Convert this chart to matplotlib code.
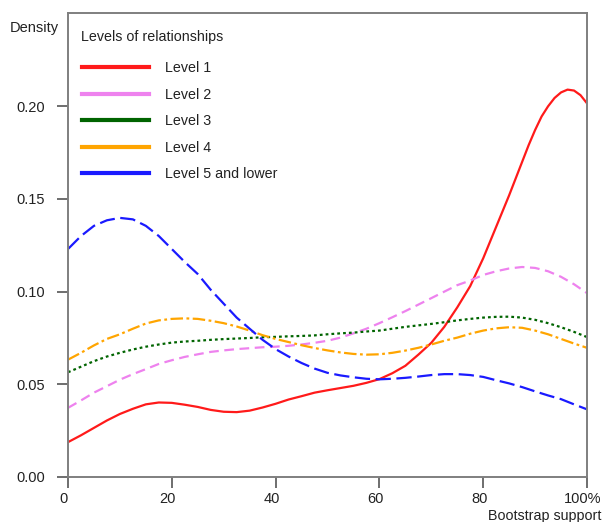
import matplotlib
matplotlib.use('Agg')
import matplotlib.pyplot as plt
import matplotlib.transforms as mtransforms
from matplotlib.lines import Line2D

plt.rcParams['font.family'] = ['Liberation Sans', 'DejaVu Sans']
plt.rcParams['lines.scale_dashes'] = False

# bootstrap support (%) grid
support = [0, 2.5, 5, 7.5, 10, 12.5, 15, 17.5, 20, 22.5, 25, 27.5, 30, 32.5, 35, 37.5,
           40, 42.5, 45, 47.5, 50, 52.5, 55, 57.5, 60, 62.5, 65, 67.5, 70, 72.5, 75, 77.5,
           80, 82.5, 85, 87.5, 90, 92.5, 95, 97.5, 100]
# level 1 has a sharp peak, read on a finer grid at the top end
support1 = [0, 2.5, 5, 7.5, 10, 12.5, 15, 17.5, 20, 22.5, 25, 27.5, 30, 32.5, 35, 37.5,
            40, 42.5, 45, 47.5, 50, 52.5, 55, 57.5, 60, 62.5, 65, 67.5, 70, 72.5, 75, 77.5,
            80, 82.5, 85, 86.25, 87.5, 88.75, 90, 91.25, 92.5, 93.75, 95, 96.25, 97.5,
            98.75, 100]

level1 = [0.0188, 0.0225, 0.0265, 0.0305, 0.0340, 0.0368, 0.0392, 0.0402, 0.0400, 0.0390,
          0.0378, 0.0362, 0.0352, 0.0350, 0.0358, 0.0375, 0.0395, 0.0418, 0.0436, 0.0455,
          0.0468, 0.0480, 0.0492, 0.0508, 0.0528, 0.0560, 0.0600, 0.0660, 0.0724, 0.0810,
          0.0915, 0.1030, 0.1180, 0.1350, 0.1520, 0.1610, 0.1700, 0.1790, 0.1872, 0.1945,
          0.2000, 0.2045, 0.2075, 0.2090, 0.2085, 0.2060, 0.2016]
level2 = [0.0373, 0.0413, 0.0455, 0.0490, 0.0525, 0.0555, 0.0582, 0.0610, 0.0630, 0.0648,
          0.0662, 0.0675, 0.0683, 0.0690, 0.0695, 0.0700, 0.0703, 0.0708, 0.0715, 0.0724,
          0.0735, 0.0752, 0.0775, 0.0800, 0.0830, 0.0862, 0.0895, 0.0930, 0.0965, 0.1000,
          0.1035, 0.1060, 0.1090, 0.1110, 0.1125, 0.1133, 0.1128, 0.1110, 0.1080, 0.1040,
          0.0992]
level3 = [0.0565, 0.0595, 0.0625, 0.0650, 0.0670, 0.0688, 0.0703, 0.0715, 0.0725, 0.0731,
          0.0735, 0.0740, 0.0744, 0.0747, 0.0750, 0.0754, 0.0756, 0.0759, 0.0761, 0.0764,
          0.0770, 0.0775, 0.0779, 0.0785, 0.0790, 0.0800, 0.0810, 0.0818, 0.0826, 0.0835,
          0.0845, 0.0853, 0.0860, 0.0864, 0.0865, 0.0860, 0.0848, 0.0830, 0.0808, 0.0783,
          0.0755]
level4 = [0.0633, 0.0670, 0.0710, 0.0745, 0.0770, 0.0800, 0.0828, 0.0845, 0.0853, 0.0856,
          0.0853, 0.0843, 0.0830, 0.0812, 0.0790, 0.0765, 0.0745, 0.0728, 0.0711, 0.0696,
          0.0683, 0.0672, 0.0664, 0.0660, 0.0662, 0.0670, 0.0682, 0.0697, 0.0715, 0.0735,
          0.0752, 0.0773, 0.0790, 0.0802, 0.0808, 0.0805, 0.0790, 0.0770, 0.0745, 0.0720,
          0.0697]
level5 = [0.1230, 0.1300, 0.1355, 0.1385, 0.1398, 0.1390, 0.1355, 0.1300, 0.1230, 0.1160,
          0.1095, 0.1010, 0.0935, 0.0860, 0.0800, 0.0740, 0.0690, 0.0650, 0.0615, 0.0585,
          0.0562, 0.0548, 0.0538, 0.0530, 0.0527, 0.0530, 0.0535, 0.0542, 0.0550, 0.0555,
          0.0555, 0.0550, 0.0540, 0.0522, 0.0505, 0.0485, 0.0462, 0.0440, 0.0420, 0.0392,
          0.0365]

labels = ['Level 1', 'Level 2', 'Level 3', 'Level 4', 'Level 5 and lower']
colors = ['#ff1a1a', '#ee82ee', '#006400', '#ffa500', '#1a1aff']
dashes = [None, (7, 4), (2, 2.2), (9, 2.5, 2, 2.5), (11, 4)]
xticks = [0, 20, 40, 60, 80, 100]
xticklabels = ['0', '20', '40', '60', '80', '100%']
yticks = [0.00, 0.05, 0.10, 0.15, 0.20]

fig = plt.figure(figsize=(6.03, 5.22), dpi=100)
ax = fig.add_axes([68 / 603, 45 / 522, 519 / 603, 464.3 / 522])

xs = [support1, support, support, support, support]
series = [level1, level2, level3, level4, level5]
for x, vals, c, d in zip(xs, series, colors, dashes):
    line, = ax.plot(x, vals, color=c, lw=1.6)
    if d is not None:
        line.set_dashes(d)

ax.set_xlim(0, 100)
ax.set_ylim(0, 0.2505)
ax.set_xticks(xticks)
ax.set_xticklabels(xticklabels)
ax.set_yticks(yticks)
ax.set_yticklabels([f'{v:.2f}' for v in yticks])
for s in ax.spines.values():
    s.set_color('#7f7f7f')
    s.set_linewidth(1.4)
ax.tick_params(direction='out', length=8, width=1.2, color='#555555',
               labelcolor='#222222', labelsize=10.5)
ax.tick_params(axis='x', pad=3)
ax.tick_params(axis='y', pad=8.5)
shift = mtransforms.ScaledTranslation(-4 / 100, 0, fig.dpi_scale_trans)
for lab in ax.get_xticklabels():
    lab.set_transform(lab.get_transform() + shift)

fig.text(10 / 603, 1 - 28 / 522, 'Density', fontsize=10.5, color='#222222', va='center')
fig.text(601 / 603, 1 - 516 / 522, 'Bootstrap support', fontsize=10.3, color='#222222',
         ha='right', va='center')

fig.text(81 / 603, 1 - 37 / 522, 'Levels of relationships', fontsize=10.3,
         color='#222222', va='center')
handles = [Line2D([], [], color=c, lw=3) for c in colors]
leg = ax.legend(handles, labels, loc='upper left', bbox_to_anchor=(82 / 603, 1 - 61 / 522),
                bbox_transform=fig.transFigure, frameon=False, fontsize=10.3,
                borderpad=0, borderaxespad=0, handlelength=4.7, handletextpad=1.1,
                labelspacing=0.88)
for t in leg.get_texts():
    t.set_color('#222222')

fig.savefig('out.png', dpi=100)
